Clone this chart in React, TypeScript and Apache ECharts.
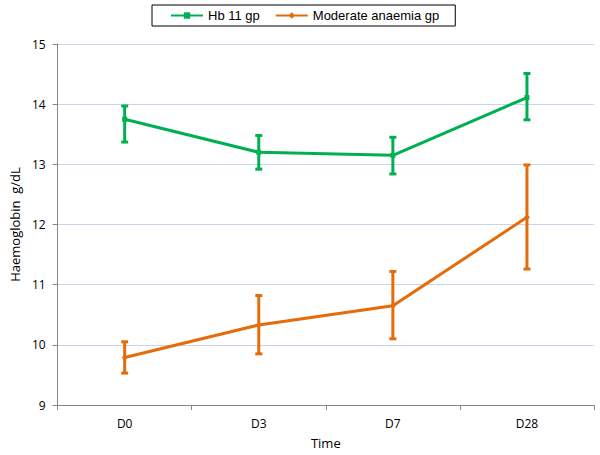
import React, { useEffect, useRef } from "react";
import * as echarts from "echarts";

const categories = ["D0", "D3", "D7", "D28"];
const hbMean = [13.75, 13.2, 13.15, 14.11];
const hbLow = [13.37, 12.92, 12.84, 13.74];
const hbHigh = [13.97, 13.48, 13.45, 14.51];
const modMean = [9.79, 10.33, 10.65, 12.12];
const modLow = [9.53, 9.85, 10.1, 11.26];
const modHigh = [10.05, 10.82, 11.22, 12.99];
const yTicks = [9, 15, 1];

const GREEN = "#00B050";
const ORANGE = "#E46C0A";

function errSeries(low: number[], high: number[], color: string) {
  return {
    type: "custom",
    silent: true,
    z: 3,
    data: low.map((l, i) => [i, l, high[i]]),
    renderItem: (params: any, api: any) => {
      const x = api.value(0);
      const lo = api.coord([x, api.value(1)]);
      const hi = api.coord([x, api.value(2)]);
      const w = 3.5;
      const style = { stroke: color, lineWidth: 3 };
      return {
        type: "group",
        children: [
          { type: "line", shape: { x1: lo[0], y1: lo[1], x2: hi[0], y2: hi[1] }, style },
          { type: "line", shape: { x1: lo[0] - w, y1: lo[1], x2: lo[0] + w, y2: lo[1] }, style },
          { type: "line", shape: { x1: hi[0] - w, y1: hi[1], x2: hi[0] + w, y2: hi[1] }, style },
        ],
      };
    },
  };
}

export default function App() {
  const ref = useRef<HTMLDivElement>(null);
  useEffect(() => {
    const chart = echarts.init(ref.current!, null, { renderer: "svg" });
    chart.setOption({
      animation: false,
      textStyle: { fontFamily: "Liberation Sans, Arial, sans-serif" },
      legend: {
        left: 152,
        top: 5,
        orient: "horizontal",
        borderColor: "#000",
        borderWidth: 1,
        padding: [4, 16, 4, 18],
        itemGap: 15,
        itemWidth: 32,
        itemHeight: 8,
        textStyle: { fontSize: 13, color: "#000", fontFamily: "Liberation Sans, Arial, sans-serif" },
        data: ["Hb 11 gp", "Moderate anaemia gp"],
      },
      grid: { left: 56, right: 6, top: 44, bottom: 50 },
      xAxis: {
        type: "category",
        data: categories,
        boundaryGap: true,
        name: "Time",
        nameLocation: "middle",
        nameGap: 31,
        nameTextStyle: { fontSize: 13, color: "#000", fontFamily: "Open Sans, sans-serif" },
        axisLine: { lineStyle: { color: "#868686" } },
        axisTick: { show: true, alignWithLabel: false, length: 5, lineStyle: { color: "#868686" } },
        axisLabel: { fontSize: 12, color: "#000", margin: 12, fontFamily: "Open Sans, sans-serif" },
        splitLine: { show: false },
      },
      yAxis: {
        type: "value",
        min: yTicks[0],
        max: yTicks[1],
        interval: yTicks[2],
        name: "Haemoglobin  g/dL",
        nameLocation: "middle",
        nameGap: 36,
        nameTextStyle: { fontSize: 13, color: "#000", fontFamily: "Open Sans, sans-serif" },
        axisLine: { show: true, lineStyle: { color: "#868686" } },
        axisTick: { show: true, length: 5, lineStyle: { color: "#868686" } },
        axisLabel: { fontSize: 12, color: "#000", margin: 12, fontFamily: "Open Sans, sans-serif" },
        splitLine: { show: true, lineStyle: { color: "#C6D4EE", width: 1 } },
      },
      series: [
        errSeries(hbLow, hbHigh, GREEN),
        errSeries(modLow, modHigh, ORANGE),
        {
          name: "Hb 11 gp",
          type: "line",
          data: hbMean,
          z: 4,
          symbol: "rect",
          symbolSize: 5,
          itemStyle: { color: GREEN },
          lineStyle: { color: GREEN, width: 3 },
        },
        {
          name: "Moderate anaemia gp",
          type: "line",
          data: modMean,
          z: 4,
          symbol: "diamond",
          symbolSize: 6,
          itemStyle: { color: ORANGE },
          lineStyle: { color: ORANGE, width: 3 },
        },
      ],
    });
    return () => chart.dispose();
  }, []);
  return <div ref={ref} style={{ position: "absolute", left: 0, top: 0, width: 600, height: 455 }} />;
}
